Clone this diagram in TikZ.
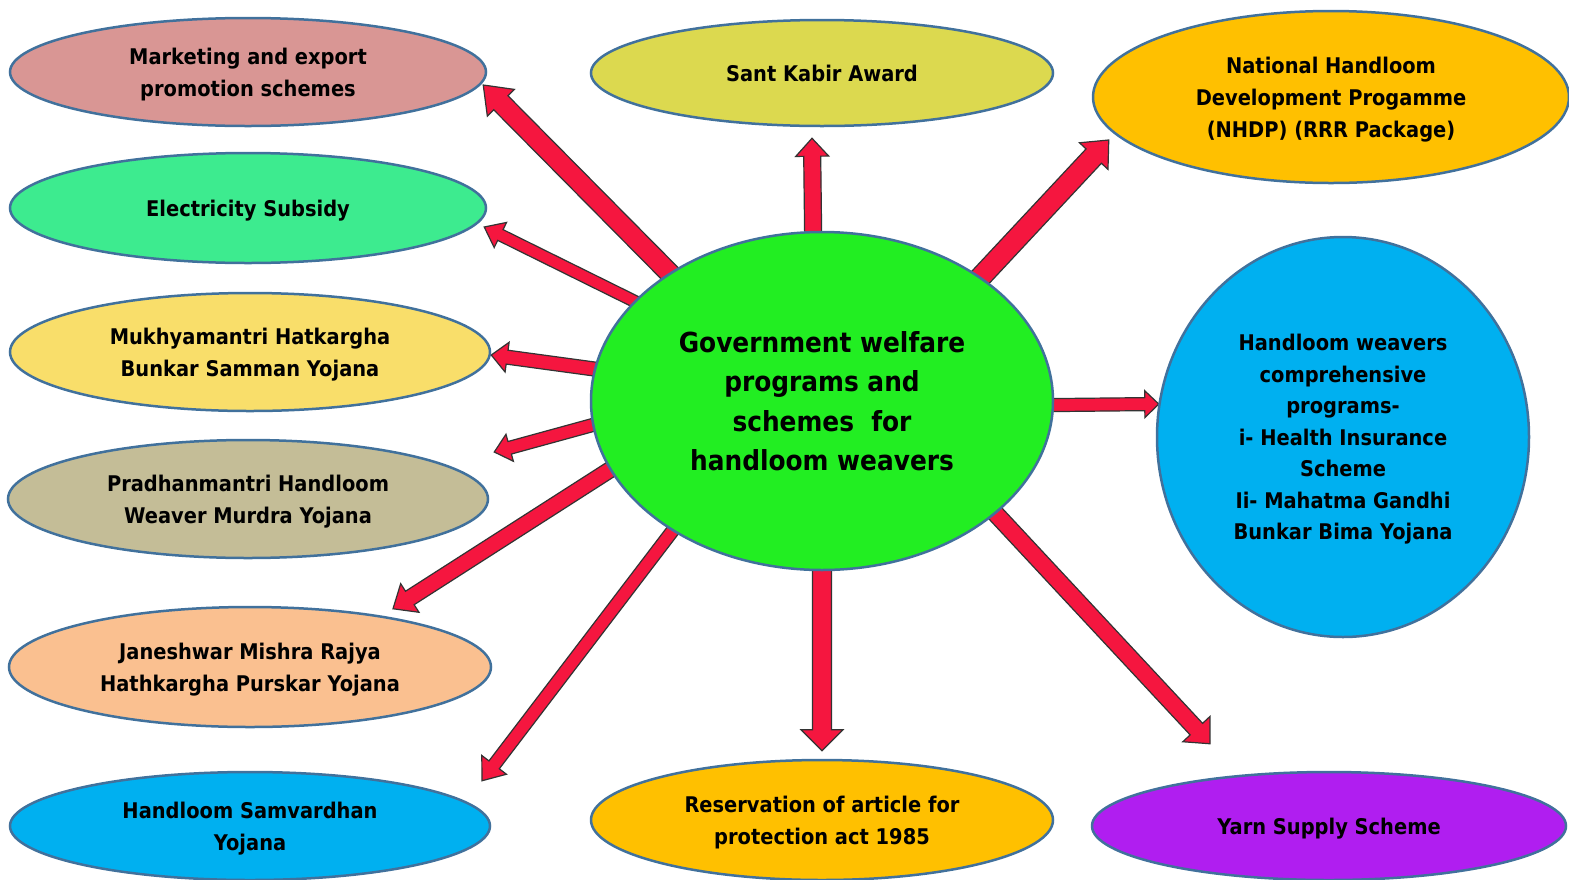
\documentclass[tikz,border=0pt]{standalone}
\usepackage{fontspec}
\setmainfont{DejaVu Sans}[FakeStretch=0.9]
\usetikzlibrary{shapes}
\usetikzlibrary{calc}
\usetikzlibrary{backgrounds}

\definecolor{bord}{HTML}{41719C}
\definecolor{arrowred}{HTML}{F5163F}
\definecolor{pinkish}{HTML}{D99694}
\definecolor{mint}{HTML}{3DEB8F}
\definecolor{lightyellow}{HTML}{F9DE6A}
\definecolor{tan}{HTML}{C4BD97}
\definecolor{peach}{HTML}{FAC090}
\definecolor{skyblue}{HTML}{00B0F0}
\definecolor{olive}{HTML}{DCD94F}
\definecolor{amber}{HTML}{FFC000}
\definecolor{violet}{HTML}{B01EF0}
\definecolor{brightgreen}{HTML}{22EE22}

\tikzset{
  bubble/.style={ellipse, draw=bord, line width=1.25pt, inner sep=0pt, align=center,
    text depth=0pt, font=\fontsize{10.8}{16}\selectfont\bfseries},
  redarrow/.style={fill=arrowred, draw=black!80, line width=0.6pt, line join=miter}
}

% block arrow: from, to, shaft, head width, head length (px)
\newcommand{\blockarr}[5]{%
  \draw [redarrow] let \p1=(#1), \p2=(#2),
    \n1={atan2(\y2-\y1,\x2-\x1)}, \n2={veclen(\x2-\x1,\y2-\y1)+15} in
    [shift={(\p2)}, rotate=\n1]
    ({-\n2*1pt},{-#3*0.25pt}) -- ({-#5*0.5pt},{-#3*0.25pt}) -- ({-#5*0.5pt},{-#4*0.25pt})
    -- (0pt,0pt) -- ({-#5*0.5pt},{#4*0.25pt}) -- ({-#5*0.5pt},{#3*0.25pt})
    -- ({-\n2*1pt},{#3*0.25pt}) -- cycle;}

\begin{document}
\begin{tikzpicture}[x=0.5pt, y=-0.5pt]
\useasboundingbox (0,0) rectangle (1569,879);

\node [bubble, fill=pinkish, minimum width=238pt, minimum height=54pt] (mk) at (248,72) {Marketing and export\\promotion schemes};
\node [bubble, fill=mint, minimum width=238pt, minimum height=55pt] (el) at (248,208) {Electricity Subsidy};
\node [bubble, fill=lightyellow, minimum width=240pt, minimum height=59pt] (mu) at (250,352) {Mukhyamantri Hatkargha\\Bunkar Samman Yojana};
\node [bubble, fill=tan, minimum width=240pt, minimum height=59pt] (pr) at (248,499) {Pradhanmantri Handloom\\Weaver Murdra Yojana};
\node [bubble, fill=peach, minimum width=241pt, minimum height=60pt] (ja) at (250,667) {Janeshwar Mishra Rajya\\Hathkargha Purskar Yojana};
\node [bubble, fill=skyblue, minimum width=240pt, minimum height=54pt] (hs) at (250,826) {Handloom Samvardhan\\Yojana};

\node [bubble, fill=olive, minimum width=231pt, minimum height=53pt] (sk) at (822,73) {Sant Kabir Award};
\node [bubble, fill=amber, minimum width=231pt, minimum height=60pt] (re) at (822,820) {Reservation of article for\\protection act 1985};

\node [bubble, fill=amber, minimum width=238pt, minimum height=86pt] (nh) at (1331,97) {National Handloom\\Development Progamme\\(NHDP) (RRR Package)};
\node [bubble, fill=skyblue, minimum width=186pt, minimum height=200pt, font=\fontsize{10.8}{15.75}\selectfont\bfseries] (hw) at (1343,437)
  {Handloom weavers\\comprehensive\\programs-\\i- Health Insurance\\Scheme\\Ii- Mahatma Gandhi\\Bunkar Bima Yojana};
\node [bubble, fill=violet, minimum width=237pt, minimum height=54pt] (ya) at (1329,826) {Yarn Supply Scheme};

\node [bubble, fill=brightgreen, minimum width=231pt, minimum height=169pt, font=\fontsize{13.8}{19.75}\selectfont\bfseries] (c) at (822,401)
  {Government welfare\\programs and\\schemes\ \ for\\handloom weavers};

\coordinate (mkTip) at ([shift={(-4,13)}]mk.east);
\coordinate (elTip) at ([shift={(-3,19)}]el.east);
\coordinate (muTip) at ([shift={(0,3)}]mu.east);
\coordinate (prTip) at ([shift={(5,-47)}]pr.east);
\coordinate (jaTip) at ([shift={(143,3)}]ja.north);
\coordinate (hsTip) at ([shift={(232,10)}]hs.north);
\coordinate (skTip) at ([shift={(-10,11)}]sk.south);
\coordinate (nhTip) at ([shift={(17,43)}]nh.west);
\coordinate (hwTip) at ([shift={(3,-33)}]hw.west);
\coordinate (reTip) at ([shift={(0,-8)}]re.north);
\coordinate (yaTip) at ([shift={(-119,-27)}]ya.north);

\begin{scope}[on background layer]
\blockarr{c.140}{mkTip}{20}{38}{25}
\blockarr{c.152}{elTip}{12}{28}{18}
\blockarr{c.172}{muTip}{14}{30}{16}
\blockarr{c.186}{prTip}{13}{28}{16}
\blockarr{c.198}{jaTip}{16}{34}{20}
\blockarr{c.221}{hsTip}{13}{31}{20}
\blockarr{c.93}{skTip}{17}{33}{18}
\blockarr{c.38}{nhTip}{21}{39}{22}
\blockarr{c.359}{hwTip}{13}{27}{14}
\blockarr{c.270}{reTip}{19}{42}{21}
\blockarr{c.-33}{yaTip}{17}{37}{20}
\end{scope}
\end{tikzpicture}
\end{document}
